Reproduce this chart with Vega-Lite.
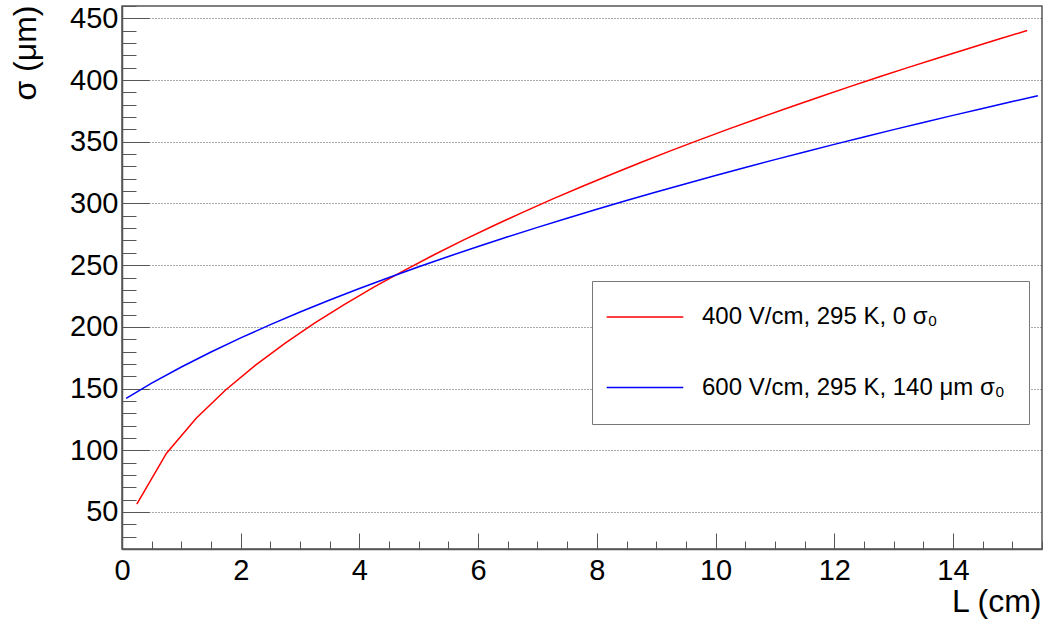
{
  "$schema": "https://vega.github.io/schema/vega-lite/v6.json",
  "width": 920,
  "height": 543,
  "autosize": {"type": "none"},
  "padding": {"left": 122, "top": 6, "right": 18, "bottom": 70},
  "background": "white",
  "config": {
    "view": {"stroke": "#555", "strokeWidth": 1.5},
    "font": "Liberation Sans"
  },
  "data": {"values": [
    {"L": 0.25, "sigma": 56.35, "series": "400 V/cm, 295 K, 0 σ₀"},
    {"L": 0.75, "sigma": 97.6, "series": "400 V/cm, 295 K, 0 σ₀"},
    {"L": 1.25, "sigma": 126.0, "series": "400 V/cm, 295 K, 0 σ₀"},
    {"L": 1.75, "sigma": 149.09, "series": "400 V/cm, 295 K, 0 σ₀"},
    {"L": 2.25, "sigma": 169.05, "series": "400 V/cm, 295 K, 0 σ₀"},
    {"L": 2.75, "sigma": 186.89, "series": "400 V/cm, 295 K, 0 σ₀"},
    {"L": 3.25, "sigma": 203.17, "series": "400 V/cm, 295 K, 0 σ₀"},
    {"L": 3.75, "sigma": 218.24, "series": "400 V/cm, 295 K, 0 σ₀"},
    {"L": 4.25, "sigma": 232.34, "series": "400 V/cm, 295 K, 0 σ₀"},
    {"L": 4.75, "sigma": 245.62, "series": "400 V/cm, 295 K, 0 σ₀"},
    {"L": 5.25, "sigma": 258.23, "series": "400 V/cm, 295 K, 0 σ₀"},
    {"L": 5.75, "sigma": 270.24, "series": "400 V/cm, 295 K, 0 σ₀"},
    {"L": 6.25, "sigma": 281.75, "series": "400 V/cm, 295 K, 0 σ₀"},
    {"L": 6.75, "sigma": 292.8, "series": "400 V/cm, 295 K, 0 σ₀"},
    {"L": 7.25, "sigma": 303.46, "series": "400 V/cm, 295 K, 0 σ₀"},
    {"L": 7.75, "sigma": 313.75, "series": "400 V/cm, 295 K, 0 σ₀"},
    {"L": 8.25, "sigma": 323.71, "series": "400 V/cm, 295 K, 0 σ₀"},
    {"L": 8.75, "sigma": 333.37, "series": "400 V/cm, 295 K, 0 σ₀"},
    {"L": 9.25, "sigma": 342.77, "series": "400 V/cm, 295 K, 0 σ₀"},
    {"L": 9.75, "sigma": 351.91, "series": "400 V/cm, 295 K, 0 σ₀"},
    {"L": 10.25, "sigma": 360.82, "series": "400 V/cm, 295 K, 0 σ₀"},
    {"L": 10.75, "sigma": 369.51, "series": "400 V/cm, 295 K, 0 σ₀"},
    {"L": 11.25, "sigma": 378.01, "series": "400 V/cm, 295 K, 0 σ₀"},
    {"L": 11.75, "sigma": 386.31, "series": "400 V/cm, 295 K, 0 σ₀"},
    {"L": 12.25, "sigma": 394.45, "series": "400 V/cm, 295 K, 0 σ₀"},
    {"L": 12.75, "sigma": 402.42, "series": "400 V/cm, 295 K, 0 σ₀"},
    {"L": 13.25, "sigma": 410.24, "series": "400 V/cm, 295 K, 0 σ₀"},
    {"L": 13.75, "sigma": 417.9, "series": "400 V/cm, 295 K, 0 σ₀"},
    {"L": 14.25, "sigma": 425.43, "series": "400 V/cm, 295 K, 0 σ₀"},
    {"L": 14.75, "sigma": 432.84, "series": "400 V/cm, 295 K, 0 σ₀"},
    {"L": 15.25, "sigma": 440.1, "series": "400 V/cm, 295 K, 0 σ₀"},
    {"L": 0.07, "sigma": 142.1, "series": "600 V/cm, 295 K, 140 μm σ₀"},
    {"L": 0.5, "sigma": 154.36, "series": "600 V/cm, 295 K, 140 μm σ₀"},
    {"L": 1.0, "sigma": 167.48, "series": "600 V/cm, 295 K, 140 μm σ₀"},
    {"L": 1.5, "sigma": 179.66, "series": "600 V/cm, 295 K, 140 μm σ₀"},
    {"L": 2.0, "sigma": 191.06, "series": "600 V/cm, 295 K, 140 μm σ₀"},
    {"L": 2.5, "sigma": 201.81, "series": "600 V/cm, 295 K, 140 μm σ₀"},
    {"L": 3.0, "sigma": 212.02, "series": "600 V/cm, 295 K, 140 μm σ₀"},
    {"L": 3.5, "sigma": 221.76, "series": "600 V/cm, 295 K, 140 μm σ₀"},
    {"L": 4.0, "sigma": 231.09, "series": "600 V/cm, 295 K, 140 μm σ₀"},
    {"L": 4.5, "sigma": 240.06, "series": "600 V/cm, 295 K, 140 μm σ₀"},
    {"L": 5.0, "sigma": 248.71, "series": "600 V/cm, 295 K, 140 μm σ₀"},
    {"L": 5.5, "sigma": 257.06, "series": "600 V/cm, 295 K, 140 μm σ₀"},
    {"L": 6.0, "sigma": 265.15, "series": "600 V/cm, 295 K, 140 μm σ₀"},
    {"L": 6.5, "sigma": 273.0, "series": "600 V/cm, 295 K, 140 μm σ₀"},
    {"L": 7.0, "sigma": 280.64, "series": "600 V/cm, 295 K, 140 μm σ₀"},
    {"L": 7.5, "sigma": 288.07, "series": "600 V/cm, 295 K, 140 μm σ₀"},
    {"L": 8.0, "sigma": 295.31, "series": "600 V/cm, 295 K, 140 μm σ₀"},
    {"L": 8.5, "sigma": 302.38, "series": "600 V/cm, 295 K, 140 μm σ₀"},
    {"L": 9.0, "sigma": 309.29, "series": "600 V/cm, 295 K, 140 μm σ₀"},
    {"L": 9.5, "sigma": 316.04, "series": "600 V/cm, 295 K, 140 μm σ₀"},
    {"L": 10.0, "sigma": 322.66, "series": "600 V/cm, 295 K, 140 μm σ₀"},
    {"L": 10.5, "sigma": 329.14, "series": "600 V/cm, 295 K, 140 μm σ₀"},
    {"L": 11.0, "sigma": 335.5, "series": "600 V/cm, 295 K, 140 μm σ₀"},
    {"L": 11.5, "sigma": 341.74, "series": "600 V/cm, 295 K, 140 μm σ₀"},
    {"L": 12.0, "sigma": 347.87, "series": "600 V/cm, 295 K, 140 μm σ₀"},
    {"L": 12.5, "sigma": 353.89, "series": "600 V/cm, 295 K, 140 μm σ₀"},
    {"L": 13.0, "sigma": 359.81, "series": "600 V/cm, 295 K, 140 μm σ₀"},
    {"L": 13.5, "sigma": 365.63, "series": "600 V/cm, 295 K, 140 μm σ₀"},
    {"L": 14.0, "sigma": 371.37, "series": "600 V/cm, 295 K, 140 μm σ₀"},
    {"L": 14.5, "sigma": 377.01, "series": "600 V/cm, 295 K, 140 μm σ₀"},
    {"L": 15.0, "sigma": 382.58, "series": "600 V/cm, 295 K, 140 μm σ₀"},
    {"L": 15.43, "sigma": 387.3, "series": "600 V/cm, 295 K, 140 μm σ₀"}
  ]},
  "mark": {"type": "line", "strokeWidth": 1.5},
  "encoding": {
    "x": {
      "field": "L", "type": "quantitative",
      "scale": {"domain": [0, 15.5], "nice": false, "zero": false},
      "axis": {
        "title": "L (cm)",
        "values": [0,0.5,1,1.5,2,2.5,3,3.5,4,4.5,5,5.5,6,6.5,7,7.5,8,8.5,9,9.5,10,10.5,11,11.5,12,12.5,13,13.5,14,14.5,15,15.5],
        "labelExpr": "datum.value % 2 === 0 ? format(datum.value, 'd') : ''",
        "grid": false,
        "tickSize": {"condition": {"test": "datum.value % 2 === 0", "value": -16}, "value": -8},
        "tickColor": "#555",
        "domainColor": "#555",
        "domainWidth": 1.5,
        "labelFontSize": 29,
        "labelColor": "black",
        "labelPadding": 23,
        "labelFlush": false,
        "labelOverlap": false,
        "labelBound": false,
        "titleFontSize": 32,
        "titleFontWeight": "normal",
        "titleColor": "black",
        "titleAnchor": "end",
        "titleAlign": "right",
        "titleBaseline": "alphabetic",
        "titleX": 919,
        "titleY": 62
      }
    },
    "y": {
      "field": "sigma", "type": "quantitative",
      "scale": {"domain": [20, 460], "nice": false, "zero": false},
      "axis": {
        "title": "σ (μm)",
        "values": [20,30,40,50,60,70,80,90,100,110,120,130,140,150,160,170,180,190,200,210,220,230,240,250,260,270,280,290,300,310,320,330,340,350,360,370,380,390,400,410,420,430,440,450,460],
        "labelExpr": "datum.value % 50 === 0 ? format(datum.value, 'd') : ''",
        "grid": true,
        "gridDash": [1, 2],
        "gridColor": "#555",
        "gridOpacity": {"condition": {"test": "datum.value % 50 === 0", "value": 1}, "value": 0},
        "tickSize": {"condition": {"test": "datum.value % 50 === 0", "value": -27}, "value": -14},
        "tickColor": "#555",
        "domainColor": "#555",
        "domainWidth": 1.5,
        "labelFontSize": 29,
        "labelColor": "black",
        "labelPadding": 31,
        "labelFlush": false,
        "labelOverlap": false,
        "labelBound": false,
        "titleFontSize": 32,
        "titleFontWeight": "normal",
        "titleColor": "black",
        "titleAngle": -90,
        "titleAnchor": "end",
        "titleAlign": "right",
        "titleBaseline": "alphabetic",
        "titleX": -87,
        "titleY": -1
      }
    },
    "color": {
      "field": "series", "type": "nominal",
      "scale": {"domain": ["400 V/cm, 295 K, 0 σ₀", "600 V/cm, 295 K, 140 μm σ₀"], "range": ["#ff0000", "#0000ff"]},
      "legend": {
        "title": null,
        "orient": "none",
        "legendX": 470,
        "legendY": 275,
        "direction": "vertical",
        "symbolType": "M-3.83,0H3.83",
        "symbolSize": 400,
        "symbolStrokeWidth": 1.5,
        "labelFontSize": 24,
        "labelColor": "black",
        "labelLimit": 0,
        "padding": 24,
        "rowPadding": 46.5,
        "symbolOffset": 17,
        "labelOffset": 45,
        "fillColor": "white",
        "strokeColor": "#777"
      }
    }
  }
}
